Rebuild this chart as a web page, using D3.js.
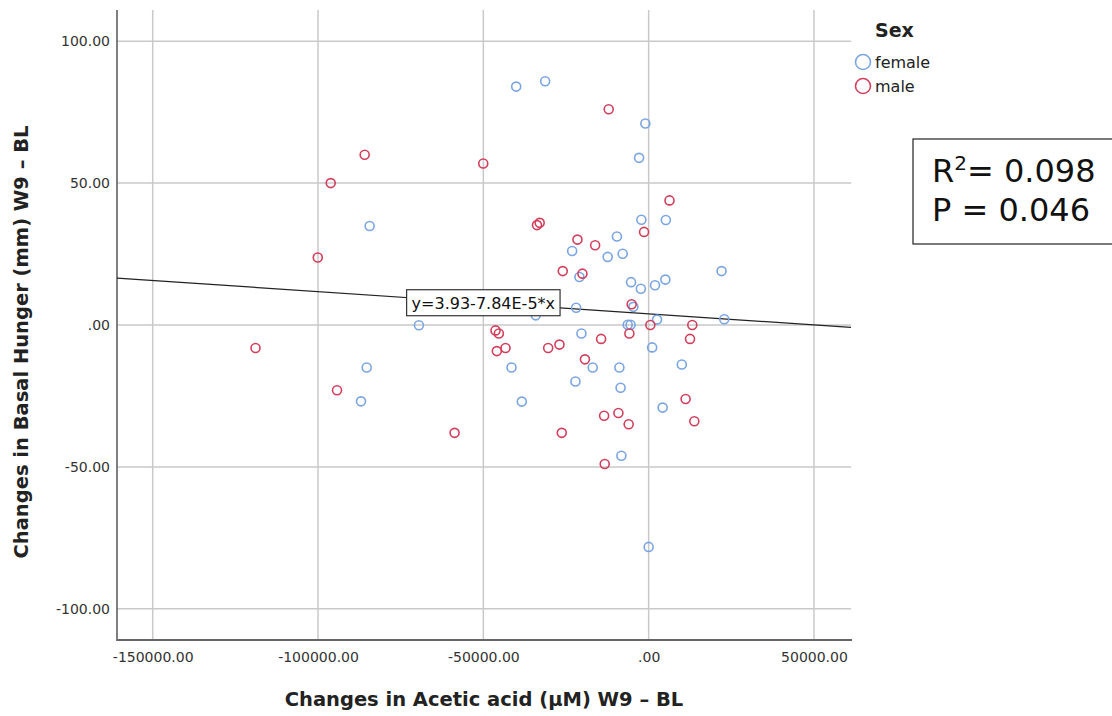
<!DOCTYPE html>
<html>
<head>
<meta charset="utf-8">
<script src="https://cdn.jsdelivr.net/npm/d3@7"></script>
<style>
  html, body { margin: 0; padding: 0; background: #fff; }
  svg { display: block; }
</style>
</head>
<body>
<svg id="chart" width="1112" height="716"></svg>
<script>
// Change in acetic acid (µM) vs change in basal hunger (mm), W9 – BL
const femaleX = [-40060, -31300, -1000, -2900, -2200, 5200, -84380, -9600, -23140, -7850,
  -12390, 22050, -20940, -5320, -2360, 1930, 5050, -21930, -4620, -34140,
  2540, -69480, -6340, -5470, 22870, -20330, 1060, 10030, -41480, -16920,
  -8850, -85280, -22140, -8490, -87000, -38370, 4230, -8250, 0];
const femaleY = [84.0, 85.9, 71.0, 58.9, 37.1, 37.0, 34.9, 31.2, 26.1, 25.1,
  24.0, 19.0, 16.9, 15.1, 12.8, 14.0, 16.0, 6.1, 6.4, 3.4,
  1.9, -0.1, 0.1, 0.1, 2.0, -3.0, -7.9, -13.9, -15.0, -15.0,
  -15.0, -15.0, -19.9, -22.1, -26.9, -27.0, -29.1, -46.1, -78.2];

const maleX = [-12080, -85890, -96160, -50030, 6310, -33770, -32960, -21540, -16190, -1390,
  -25980, -20030, -100080, -5140, 510, 13200, -5830, -46310, -45310, -45920,
  -43290, -30390, -26980, -14380, -19270, 12510, -118900, -94250, -13470, -9150,
  -6040, 11180, 13810, -26280, -58700, -13290];
const maleY = [76.0, 60.0, 50.0, 56.9, 43.9, 35.2, 36.0, 30.1, 28.1, 32.8,
  19.0, 18.1, 23.8, 7.3, 0.0, 0.0, -3.0, -1.9, -3.0, -9.2,
  -8.1, -8.1, -6.9, -4.9, -12.1, -4.9, -8.1, -23.0, -32.0, -31.0,
  -35.0, -26.1, -33.9, -38.0, -38.0, -49.0];

const xTicks = [-150000, -100000, -50000, 0, 50000];
const xTickLabels = ["-150000.00", "-100000.00", "-50000.00", ".00", "50000.00"];
const yTicks = [-100, -50, 0, 50, 100];
const yTickLabels = ["-100.00", "-50.00", ".00", "50.00", "100.00"];

const fitIntercept = 3.93;
const fitSlope = -7.84e-5;
const fitLabel = "y=3.93-7.84E-5*x";
const fitLabelAt = -50000;

const groups = ["female", "male"];
const groupColors = ["#7aa5e4", "#d13f5b"];
const stats = { r2: "0.098", p: "0.046" };

const svg = d3.select("#chart");
const plot = { left: 117, right: 851, top: 10, bottom: 640 };

const x = d3.scaleLinear().domain([-160800, 61200]).range([plot.left, plot.right]);
const y = d3.scaleLinear().domain([-111, 111]).range([plot.bottom, plot.top]);
const color = d3.scaleOrdinal().domain(groups).range(groupColors);

// grid lines
svg.append("g").selectAll("line").data(xTicks).join("line")
  .attr("x1", d => x(d)).attr("x2", d => x(d))
  .attr("y1", plot.top).attr("y2", plot.bottom)
  .attr("stroke", "#c9c9c9").attr("stroke-width", 1.5);
svg.append("g").selectAll("line").data(yTicks).join("line")
  .attr("x1", plot.left).attr("x2", plot.right)
  .attr("y1", d => y(d)).attr("y2", d => y(d))
  .attr("stroke", "#c9c9c9").attr("stroke-width", 1.5);

// axes
const xAxis = d3.axisBottom(x).tickValues(xTicks)
  .tickFormat((d, i) => xTickLabels[i]).tickSize(0).tickPadding(12);
const yAxis = d3.axisLeft(y).tickValues(yTicks)
  .tickFormat((d, i) => yTickLabels[i]).tickSize(0).tickPadding(7);

const gx = svg.append("g").attr("transform", `translate(0,${plot.bottom})`).call(xAxis);
const gy = svg.append("g").attr("transform", `translate(${plot.left},0)`).call(yAxis);
[gx, gy].forEach(g => {
  g.select(".domain").remove();
  g.selectAll("text").attr("font-family", "DejaVu Sans, sans-serif")
    .attr("font-size", 14).attr("fill", "#333");
});

svg.append("line").attr("x1", plot.left).attr("x2", plot.left)
  .attr("y1", plot.top).attr("y2", plot.bottom + 1)
  .attr("stroke", "#555").attr("stroke-width", 1.5);
svg.append("line").attr("x1", plot.left).attr("x2", plot.right + 1)
  .attr("y1", plot.bottom).attr("y2", plot.bottom)
  .attr("stroke", "#666").attr("stroke-width", 2);

// regression line
const xd = x.domain();
svg.append("line")
  .attr("x1", x(xd[0])).attr("y1", y(fitIntercept + fitSlope * xd[0]))
  .attr("x2", x(xd[1])).attr("y2", y(fitIntercept + fitSlope * xd[1]))
  .attr("stroke", "#222").attr("stroke-width", 1.2);

// points
const points = [];
femaleX.forEach((v, i) => points.push({ x: v, y: femaleY[i], g: "female" }));
maleX.forEach((v, i) => points.push({ x: v, y: maleY[i], g: "male" }));

svg.append("g").selectAll("circle").data(points).join("circle")
  .attr("cx", d => x(d.x)).attr("cy", d => y(d.y)).attr("r", 4.5)
  .attr("fill", "none").attr("stroke", d => color(d.g)).attr("stroke-width", 1.6);

// fit equation label
const lx = x(fitLabelAt), ly = y(fitIntercept + fitSlope * fitLabelAt);
const lab = svg.append("g");
const lt = lab.append("text").attr("x", lx).attr("y", ly + 6)
  .attr("text-anchor", "middle").attr("font-family", "DejaVu Sans, sans-serif")
  .attr("font-size", 16).attr("fill", "#111").text(fitLabel);
const bb = lt.node().getBBox();
lab.insert("rect", "text")
  .attr("x", bb.x - 5).attr("y", ly - 13).attr("width", bb.width + 10).attr("height", 26)
  .attr("fill", "#fff").attr("stroke", "#333").attr("stroke-width", 1.2);

// axis titles
svg.append("text").attr("x", (plot.left + plot.right) / 2).attr("y", 706)
  .attr("text-anchor", "middle").attr("font-family", "DejaVu Sans, sans-serif")
  .attr("font-weight", "bold").attr("font-size", 19.5).attr("fill", "#222")
  .text("Changes in Acetic acid (µM) W9 – BL");
svg.append("text").attr("transform", "translate(28,342) rotate(-90)")
  .attr("text-anchor", "middle").attr("font-family", "DejaVu Sans, sans-serif")
  .attr("font-weight", "bold").attr("font-size", 19.5).attr("fill", "#222")
  .text("Changes in Basal Hunger (mm) W9 – BL");

// legend
const leg = svg.append("g");
leg.append("text").attr("x", 875).attr("y", 37)
  .attr("font-family", "DejaVu Sans, sans-serif").attr("font-weight", "bold")
  .attr("font-size", 19).attr("fill", "#222").text("Sex");
groups.forEach((g, i) => {
  const cy = 62 + i * 24;
  leg.append("circle").attr("cx", 863).attr("cy", cy).attr("r", 7.5)
    .attr("fill", "none").attr("stroke", color(g)).attr("stroke-width", 1.6);
  leg.append("text").attr("x", 875).attr("y", cy + 6)
    .attr("font-family", "DejaVu Sans, sans-serif").attr("font-size", 16)
    .attr("fill", "#222").text(g);
});

// statistics box
svg.append("rect").attr("x", 913).attr("y", 139).attr("width", 210).attr("height", 105)
  .attr("fill", "#fff").attr("stroke", "#222").attr("stroke-width", 1.2);
const s1 = svg.append("text").attr("x", 932).attr("y", 182)
  .attr("font-family", "DejaVu Sans, sans-serif").attr("font-size", 32).attr("fill", "#111");
s1.append("tspan").text("R");
s1.append("tspan").attr("font-size", 20).attr("dy", -12).text("2");
s1.append("tspan").attr("dy", 12).text("= " + stats.r2);
svg.append("text").attr("x", 932).attr("y", 221)
  .attr("font-family", "DejaVu Sans, sans-serif").attr("font-size", 32).attr("fill", "#111")
  .text("P = " + stats.p);
</script>
</body>
</html>
